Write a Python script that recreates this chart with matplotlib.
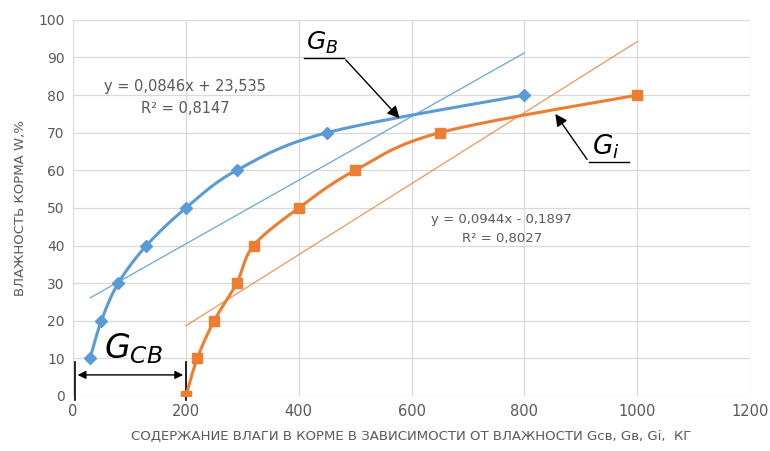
import matplotlib
matplotlib.use("Agg")
import matplotlib.pyplot as plt
import numpy as np

# кривая G_B (влажность корма от содержания влаги)
gb_x = [30, 50, 80, 130, 200, 290, 450, 800]
gb_y = [10, 20, 30, 40, 50, 60, 70, 80]
# кривая G_i
gi_x = [200, 220, 250, 290, 320, 400, 500, 650, 1000]
gi_y = [0, 10, 20, 30, 40, 50, 60, 70, 80]
# линейные тренды (коэффициенты из подписей)
gb_k, gb_b = 0.0846, 23.535
gi_k, gi_b = 0.0944, -0.1897

BLUE = "#5B9BD5"
ORANGE = "#ED7D31"
GREY = "#595959"


def smooth(xs, ys, n=30):
    # сглаживание как в Excel: кривые Безье через точки (Catmull-Rom)
    p = np.column_stack([xs, ys]).astype(float)
    p = np.vstack([p[0], p, p[-1]])
    out = []
    t = np.linspace(0, 1, n)[:, None]
    for i in range(1, len(p) - 2):
        p0, p1, p2, p3 = p[i - 1], p[i], p[i + 1], p[i + 2]
        c1 = p1 + (p2 - p0) / 6
        c2 = p2 - (p3 - p1) / 6
        seg = ((1 - t) ** 3) * p1 + 3 * ((1 - t) ** 2) * t * c1 + 3 * (1 - t) * t ** 2 * c2 + t ** 3 * p2
        out.append(seg if i == 1 else seg[1:])
    s = np.vstack(out)
    return s[:, 0], s[:, 1]


fig = plt.figure(figsize=(7.7, 4.51), dpi=100)
ax = fig.add_axes([0.095, 0.122, 0.879, 0.834])

ax.set_xlim(0, 1200)
ax.set_ylim(0, 100)
ax.set_xticks(range(0, 1201, 200))
ax.set_yticks(range(0, 101, 10))
ax.grid(True, color="#D9D9D9", linewidth=0.9)
ax.set_axisbelow(True)
for s in ax.spines.values():
    s.set_visible(False)
ax.tick_params(length=0, labelsize=10, colors=GREY, pad=6)
for lbl in ax.get_xticklabels():
    lbl.set_fontsize(10.5)

# тренды
tx = np.array([gb_x[0], gb_x[-1]])
ax.plot(tx, gb_k * tx + gb_b, color=BLUE, lw=0.9, alpha=0.9, zorder=2)
tx = np.array([gi_x[0], gi_x[-1]])
ax.plot(tx, gi_k * tx + gi_b, color=ORANGE, lw=0.9, alpha=0.8, zorder=2)

# кривые с маркерами
sx, sy = smooth(gb_x, gb_y)
ax.plot(sx, sy, color=BLUE, lw=2.2, zorder=3, solid_capstyle="round")
ax.plot(gb_x, gb_y, ls="none", marker="D", ms=6, color=BLUE, zorder=4)
sx, sy = smooth(gi_x, gi_y)
ax.plot(sx, sy, color=ORANGE, lw=2.2, zorder=3, solid_capstyle="round")
ax.plot(gi_x, gi_y, ls="none", marker="s", ms=7, color=ORANGE, zorder=4)

# уравнения трендов
ax.text(198, 79.3, "y = 0,0846x + 23,535\nR² = 0,8147", ha="center", va="center",
        fontsize=10.5, color=GREY, linespacing=1.55)
ax.text(760, 44.5, "y = 0,0944x - 0,1897\nR² = 0,8027", ha="center", va="center",
        fontsize=9.5, color=GREY, linespacing=1.6)

# выноски G_B и G_i
ax.text(412, 90.5, "$G_B$", fontsize=18, color="black", ha="left", va="bottom")
ax.plot([409, 480], [89.9, 89.9], color="black", lw=1)
ax.annotate("", xy=(582, 73.3), xytext=(480, 89.9),
            arrowprops=dict(arrowstyle="-|>", color="black", lw=1, mutation_scale=18))
ax.text(920, 62.5, "$G_i$", fontsize=19, color="black", ha="left", va="bottom")
ax.plot([914, 985], [62.3, 62.3], color="black", lw=1)
ax.annotate("", xy=(852, 75.6), xytext=(914, 62.3),
            arrowprops=dict(arrowstyle="-|>", color="black", lw=1, mutation_scale=18))

# размер G_CB
ax.plot([3, 3], [9, -1], color="black", lw=1.2, clip_on=False)
ax.plot([200, 200], [9, -1], color="black", lw=1.2, clip_on=False)
ax.annotate("", xy=(3, 5.6), xytext=(200, 5.6),
            arrowprops=dict(arrowstyle="<|-|>", color="black", lw=1, mutation_scale=12))
ax.text(54, 8, "$G_{CB}$", fontsize=24, color="black", ha="left", va="bottom")

ax.set_ylabel("ВЛАЖНОСТЬ КОРМА W,%", fontsize=9.5, color=GREY, labelpad=8)
ax.set_xlabel("СОДЕРЖАНИЕ ВЛАГИ В КОРМЕ В ЗАВИСИМОСТИ ОТ ВЛАЖНОСТИ Gсв, Gв, Gi,  КГ",
              fontsize=9.5, color=GREY, labelpad=8)

fig.savefig("out.png", dpi=100)
